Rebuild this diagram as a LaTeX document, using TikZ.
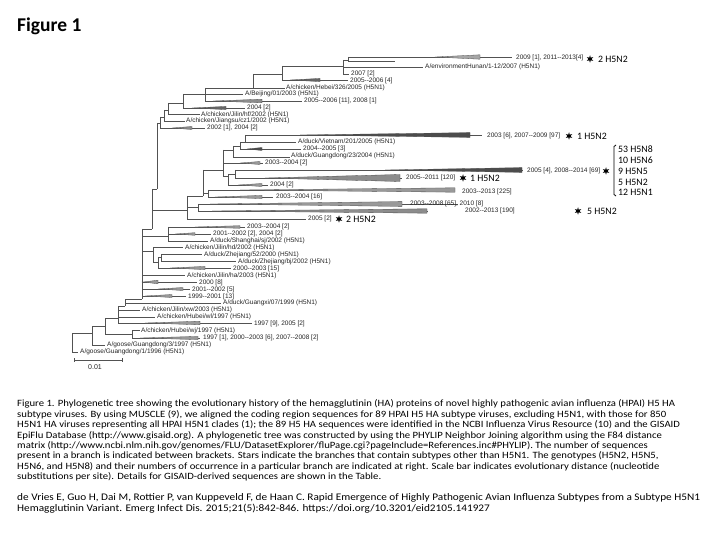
\documentclass[tikz,border=0pt]{standalone}
\usepackage{fontspec}
\usepackage{graphicx}
\setmainfont{Carlito}
\newfontfamily\treefont{Liberation Sans}
\usetikzlibrary{shapes.geometric}
\tikzset{
  tree/.style={draw=black!68, line width=0.55pt},
  tl/.style={anchor=west, inner sep=0pt, font=\treefont\fontsize{6.5}{7.5}\selectfont, text=black!85},
  sl/.style={anchor=west, inner sep=0pt, font=\fontsize{9.8}{11}\selectfont},
  captext/.style={anchor=west, inner sep=0pt, font=\fontsize{9.6}{10.5}\selectfont},
  citetext/.style={anchor=west, inner sep=0pt, font=\fontsize{10.1}{11.5}\selectfont},
  starmark/.style={star, star points=6, star point ratio=2.4, fill=black, draw=none, inner sep=0pt, minimum size=7.5pt},
}
\newcommand\treeH[3]{\draw[tree] (#2,#1) -- (#3,#1);}
\newcommand\treeV[3]{\draw[tree] (#1,#2) -- (#1,#3);}
\newcommand\treeW[5]{\filldraw[draw=black!70, line width=0.3pt, fill=#5] (#2,#1) -- (#3,{#1-#4}) -- (#3,{#1+#4}) -- cycle;}
\newcommand\wideline[1]{\scalebox{1.115}[1]{#1}}
\begin{document}
\begin{tikzpicture}[x=1pt,y=-1pt]
\useasboundingbox (0,0) rectangle (720,540);
\fill[white] (0,0) rectangle (720,540);

% title
\node[anchor=west, inner sep=0pt, font=\bfseries\fontsize{19.5}{22}\selectfont] (title) at (17,26) {Figure 1};

% ---- verticals ----
\treeV{72}{333}{352}
\treeV{92}{326}{345}
\treeV{105}{318}{334}
\treeV{132}{330}{338}
\treeV{118}{306}{323}
\treeV{125}{299}{306}
\treeV{142}{229}{299}
\treeV{153}{247}{262}
\treeV{158}{257}{268}
\treeV{161}{254}{261}
\treeV{168}{227}{241}
\treeV{152}{189}{229}
\treeV{157}{123}{189}
\treeV{187}{196}{219}
\treeV{198}{204}{211}
\treeV{203}{170}{196}
\treeV{208}{190}{197}
\treeV{223}{150}{176}
\treeV{228}{174}{185}
\treeV{235}{170}{178}
\treeV{233}{146}{157}
\treeV{240}{142}{149}
\treeV{245}{135}{142}
\treeV{160}{117}{128}
\treeV{164}{110}{121}
\treeV{168}{103}{114}
\treeV{183}{94}{108}
\treeV{205}{88}{101}
\treeV{253}{74}{88}
\treeV{282}{66}{80}
\treeV{343}{60}{74}
\treeV{348}{57}{61}

% ---- connections ----
\treeH{333}{72}{92}
\treeH{326}{92}{105}
\treeH{334}{105}{132}
\treeH{318}{105}{118}
\treeH{306}{118}{125}
\treeH{299}{125}{142}
\treeH{251}{142}{153}
\treeH{262}{153}{158}
\treeH{257}{158}{161}
\treeH{236}{142}{168}
\treeH{229}{142}{152}
\treeH{189}{152}{157}
\treeH{210}{152}{187}
\treeH{207}{187}{198}
\treeH{196}{187}{203}
\treeH{170}{203}{223}
\treeH{193}{203}{208}
\treeH{150}{223}{233}
\treeH{176}{223}{228}
\treeH{174}{228}{235}
\treeH{146}{233}{240}
\treeH{142}{240}{245}
\treeH{123}{157}{160}
\treeH{117}{160}{164}
\treeH{110}{164}{168}
\treeH{103}{168}{183}
\treeH{94}{183}{205}
\treeH{88}{205}{253}
\treeH{74}{253}{282}
\treeH{66}{282}{343}
\treeH{60}{343}{348}

% ---- leaves ----
\treeH{352}{72}{78}
\treeH{345}{92}{105}
\treeH{338}{132}{200} \treeW{338}{140}{198}{1.6}{black!40}
\treeH{330}{132}{140}
\treeH{323}{118}{252} \treeW{323}{145}{200}{1.8}{black!40}
\treeH{317}{118}{155}
\treeH{310}{118}{140}
\treeH{303}{125}{221}
\treeH{296}{142}{186} \treeW{296}{145}{172}{1.5}{black!40}
\treeH{289}{142}{190} \treeW{289}{158}{183}{1.5}{black!40}
\treeH{282}{142}{197} \treeW{282}{143}{158}{1.8}{black!40}
\treeH{275}{142}{185}
\treeH{268}{158}{231} \treeW{268}{170}{205}{1.6}{black!40}
\treeH{261}{161}{236}
\treeH{254}{161}{202}
\treeH{247}{153}{183}
\treeH{241}{168}{208}
\treeH{234}{168}{211} \treeW{234}{175}{195}{1.3}{black!40}
\treeH{227}{168}{245} \treeW{227}{195}{240}{1.3}{black!40}
\treeH{219}{187}{306}
\treeH{211}{198}{428} \treeW{211}{212}{427}{2.2}{black!45}
\treeH{204}{198}{458} \treeW{204}{210}{402}{2.4}{black!40}
\treeH{197}{208}{273} \treeW{197}{215}{262}{1.6}{black!40}
\treeH{190}{208}{455} \treeW{190}{240}{455}{2.2}{black!40}
\treeH{185}{228}{268} \treeW{185}{238}{262}{1.5}{black!40}
\treeH{178}{235}{402} \treeW{178}{265}{400}{3.5}{black!45}
\treeH{170}{235}{523} \treeW{170}{385}{522}{2.4}{black!70}
\treeH{163}{223}{263} \treeW{163}{240}{260}{1.5}{black!40}
\treeH{157}{233}{290}
\treeH{149}{240}{301} \treeW{149}{247}{262}{1.5}{black!70}
\treeH{142}{245}{296}
\treeH{135}{245}{482} \treeW{135}{300}{470}{2.4}{black!70}
\treeH{128}{160}{205} \treeW{128}{172}{192}{1.5}{black!45}
\treeH{121}{164}{185}
\treeH{114}{168}{200}
\treeH{108}{183}{245} \treeW{108}{192}{226}{1.6}{black!60}
\treeH{101}{205}{302} \treeW{101}{213}{262}{1.8}{black!45}
\treeH{94}{205}{243}
\treeH{88}{253}{285}
\treeH{80}{282}{348} \treeW{80}{290}{320}{1.6}{black!60}
\treeH{74}{343}{349}
\treeH{67}{343}{423}
\treeH{61}{348}{395}
\treeH{57}{348}{512} \treeW{57}{435}{480}{2.2}{black!35}

% ---- tree labels ----
\node[tl] (n1) at (516,58) {2009 [1], 2011--2013[4]};
\node[starmark] (s1) at (590,59) {};
\node[sl] (g1) at (598,59) {2 H5N2};
\node[tl] (n2) at (425,67) {A/environmentHunan/1-12/2007 (H5N1)};
\node[tl] (n3) at (351,74) {2007 [2]};
\node[tl] (n4) at (350,81) {2005--2006 [4]};
\node[tl] (n5) at (286,87.5) {A/chicken/Hebei/326/2005 (H5N1)};
\node[tl] (n6) at (245,94) {A/Beijing/01/2003 (H5N1)};
\node[tl] (n7) at (304,101) {2005--2006 [11], 2008 [1]};
\node[tl] (n8) at (247,108) {2004 [2]};
\node[tl] (n9) at (201,114.5) {A/chicken/Jilin/hf/2002 (H5N1)};
\node[tl] (n10) at (186,121) {A/chicken/Jiangsu/cz1/2002 (H5N1)};
\node[tl] (n11) at (207,128) {2002 [1], 2004 [2]};
\node[tl] (n12) at (487,135.5) {2003 [6], 2007--2009 [97]};
\node[starmark] (s2) at (569,136) {};
\node[sl] (g2) at (577,136) {1 H5N2};
\node[tl] (n13) at (298,142) {A/duck/Vietnam/201/2005 (H5N1)};
\node[tl] (n14) at (303,149) {2004--2005 [3]};
\node[tl] (n15) at (291,156) {A/duck/Guangdong/23/2004 (H5N1)};
\node[tl] (n16) at (265,163) {2003--2004 [2]};
\node[tl] (n17) at (527,171) {2005 [4], 2008--2014 [69]};
\node[starmark] (s3) at (606,171) {};
\node[tl] (n18) at (406,178) {2005--2011 [120]};
\node[starmark] (s4) at (463,178) {};
\node[sl] (g4) at (470,178) {1 H5N2};
\node[tl] (n19) at (270,185) {2004 [2]};
\node[tl] (n20) at (462,192) {2003--2013 [225]};
\node[tl] (n21) at (276,197) {2003--2004 [16]};
\node[tl] (n22) at (410,203.5) {2003--2008 [65], 2010 [8]};
\node[tl] (n23) at (465,211) {2002--2013 [190]};
\node[starmark] (s5) at (578,211) {};
\node[sl] (g5) at (587,211) {5 H5N2};
\node[tl] (n24) at (308,219) {2005 [2]};
\node[starmark] (s6) at (339,219) {};
\node[sl] (g6) at (346,219) {2 H5N2};
\node[tl] (n25) at (247,227) {2003--2004 [2]};
\node[tl] (n26) at (213,234) {2001--2002 [2], 2004 [2]};
\node[tl] (n27) at (210,241) {A/duck/Shanghai/sj/2002 (H5N1)};
\node[tl] (n28) at (185,248) {A/chicken/Jilin/hd/2002 (H5N1)};
\node[tl] (n29) at (204,254.5) {A/duck/Zhejiang/52/2000 (H5N1)};
\node[tl] (n30) at (238,261.5) {A/duck/Zhejiang/bj/2002 (H5N1)};
\node[tl] (n31) at (233,268.5) {2000--2003 [15]};
\node[tl] (n32) at (187,275.5) {A/chicken/Jilin/ha/2003 (H5N1)};
\node[tl] (n33) at (199,282.5) {2000 [8]};
\node[tl] (n34) at (192,289.5) {2001--2002 [5]};
\node[tl] (n35) at (188,296.5) {1999--2001 [13]};
\node[tl] (n36) at (223,303) {A/duck/Guangxi/07/1999 (H5N1)};
\node[tl] (n37) at (142,310) {A/chicken/Jilin/xw/2003 (H5N1)};
\node[tl] (n38) at (157,317) {A/chicken/Hubei/wl/1997 (H5N1)};
\node[tl] (n39) at (254,324) {1997 [9], 2005 [2]};
\node[tl] (n40) at (141,331) {A/chicken/Hubei/wj/1997 (H5N1)};
\node[tl] (n41) at (203,338) {1997 [1], 2000--2003 [6], 2007--2008 [2]};
\node[tl] (n42) at (107,345) {A/goose/Guangdong/3/1997 (H5N1)};
\node[tl] (n43) at (80,352) {A/goose/Guangdong/1/1996 (H5N1)};

% scale bar
\coordinate (sbA) at (74,360);
\coordinate (sbB) at (122,360);
\draw[tree] (sbA) -- (sbB);
\draw[tree] (74,358) -- (74,362);
\draw[tree] (122,358) -- (122,362);
\node[tl, font=\treefont\fontsize{7}{8}\selectfont] (sb) at (88,367) {0.01};

% genotype list
\draw[line width=0.8pt] (616,145) -- (614,146.5) -- (614,194.5) -- (616,196);
\node[sl] (k1) at (618,149) {53 H5N8};
\node[sl] (k2) at (618,160) {10 H5N6};
\node[sl] (k3) at (618,171) {9 H5N5};
\node[sl] (k4) at (618,182) {5 H5N2};
\node[sl] (k5) at (618,192) {12 H5N1};

% caption
\node[captext] (c1) at (17,404) {\wideline{Figure 1. Phylogenetic tree showing the evolutionary history of the hemagglutinin (HA) proteins of novel highly pathogenic avian influenza (HPAI) H5 HA}};
\node[captext] (c2) at (17,414.45) {\wideline{subtype viruses. By using MUSCLE (9), we aligned the coding region sequences for 89 HPAI H5 HA subtype viruses, excluding H5N1, with those for 850}};
\node[captext] (c3) at (17,424.9) {\wideline{H5N1 HA viruses representing all HPAI H5N1 clades (1); the 89 H5 HA sequences were identified in the NCBI Influenza Virus Resource (10) and the GISAID}};
\node[captext] (c4) at (17,435.35) {\wideline{EpiFlu Database (http://www.gisaid.org). A phylogenetic tree was constructed by using the PHYLIP Neighbor Joining algorithm using the F84 distance}};
\node[captext] (c5) at (17,445.8) {\wideline{matrix (http://www.ncbi.nlm.nih.gov/genomes/FLU/DatasetExplorer/fluPage.cgi?pageInclude=References.inc\#PHYLIP). The number of sequences}};
\node[captext] (c6) at (17,456.25) {\wideline{present in a branch is indicated between brackets. Stars indicate the branches that contain subtypes other than H5N1. The genotypes (H5N2, H5N5,}};
\node[captext] (c7) at (17,466.7) {\wideline{H5N6, and H5N8) and their numbers of occurrence in a particular branch are indicated at right. Scale bar indicates evolutionary distance (nucleotide}};
\node[captext] (c8) at (17,477.15) {\wideline{substitutions per site). Details for GISAID-derived sequences are shown in the Table.}};
\node[citetext] (d1) at (17,497.5) {\wideline{de Vries E, Guo H, Dai M, Rottier P, van Kuppeveld F, de Haan C. Rapid Emergence of Highly Pathogenic Avian Influenza Subtypes from a Subtype H5N1}};
\node[citetext] (d2) at (17,509) {\wideline{Hemagglutinin Variant. Emerg Infect Dis. 2015;21(5):842-846. https://doi.org/10.3201/eid2105.141927}};
\end{tikzpicture}
\end{document}
